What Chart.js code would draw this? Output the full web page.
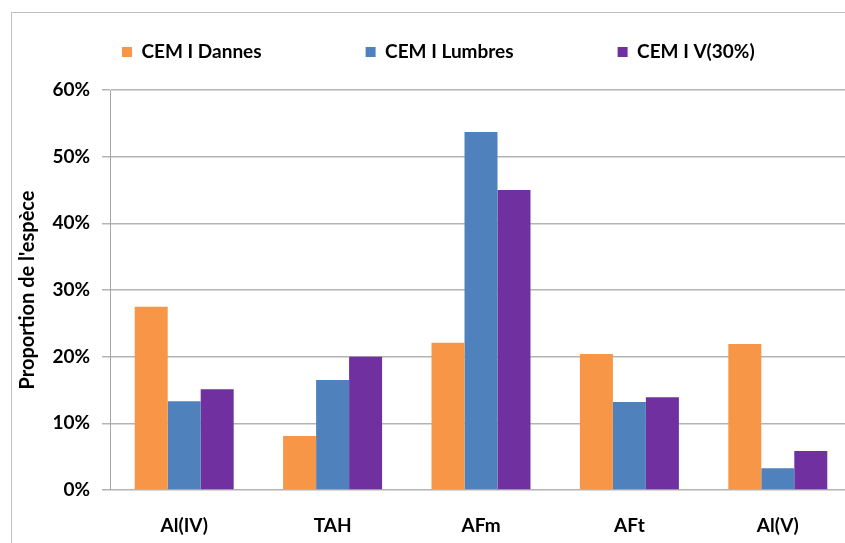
<!DOCTYPE html>
<html>
<head>
<meta charset="utf-8">
<script src="https://cdn.jsdelivr.net/npm/chart.js@4.4.0/dist/chart.umd.min.js"></script>
<style>
  html, body { margin: 0; padding: 0; background: #fff; overflow: hidden; }
  #frame { position: absolute; left: 11px; top: 12px; width: 900px; height: 600px; border: 1px solid #bfbfbf; }
  #wrap { position: absolute; left: 0; top: 0; width: 880px; height: 560px; }
</style>
</head>
<body>
<div id="frame"></div>
<div id="wrap"><canvas id="chart"></canvas></div>
<script>
// Values (percent)
const categories = ['Al(IV)', 'TAH', 'AFm', 'AFt', 'Al(V)'];
const dannes = [27.5, 8.1, 22.1, 20.4, 21.9];
const lumbres = [13.3, 16.5, 53.7, 13.2, 3.25];
const cemV30 = [15.1, 20.0, 45.0, 13.9, 5.85];
const seriesNames = ['CEM I Dannes', 'CEM I Lumbres', 'CEM I V(30%)'];
const yMax = 60;
const yStep = 10;

const FONT = "Lato, 'Open Sans', sans-serif";
const GRID = '#b4b4b4';
const LEGEND_PAD = 104;

// Legend placement: keep the wide item spacing on one row without a tall legend box
const legendPlacement = {
  id: 'legendPlacement',
  beforeLayout(chart) {
    const lg = chart.legend;
    if (lg && !lg._patched) {
      const fit = lg.fit;
      lg.fit = function () {
        const mw = this.maxWidth;
        this.maxWidth = mw + 300;
        fit.call(this);
        this.maxWidth = mw;
        this.width = Math.min(this.width, mw);
        this.height = 90;
      };
      lg._patched = true;
    }
  },
  afterLayout(chart) {
    const lg = chart.legend;
    if (!lg) return;
    lg.top = 42.5 - LEGEND_PAD;
    lg.left = 122 - LEGEND_PAD;
    lg.right = chart.width + 300;
  },
};

new Chart(document.getElementById('chart'), {
  type: 'bar',
  data: {
    labels: categories,
    datasets: [
      { label: seriesNames[0], data: dannes, backgroundColor: '#F79646' },
      { label: seriesNames[1], data: lumbres, backgroundColor: '#4F81BD' },
      { label: seriesNames[2], data: cemV30, backgroundColor: '#7030A0' },
    ],
  },
  options: {
    responsive: true,
    maintainAspectRatio: false,
    animation: false,
    layout: { padding: { left: 0, right: 28, top: 0, bottom: 0 } },
    datasets: {
      bar: { categoryPercentage: 0.667, barPercentage: 1, borderWidth: 0 },
    },
    plugins: {
      tooltip: { enabled: false },
      legend: {
        position: 'top',
        align: 'start',
        labels: {
          boxWidth: 10,
          boxHeight: 10,
          padding: LEGEND_PAD,
          color: '#000',
          font: { family: FONT, size: 19, weight: 'bold' },
        },
      },
    },
    scales: {
      x: {
        grid: { display: false, drawTicks: false },
        border: { display: false },
        ticks: {
          padding: 24,
          color: '#000',
          font: { family: FONT, size: 19, weight: 'bold' },
        },
        afterFit(scale) { scale.height = 70; },
      },
      y: {
        min: 0,
        max: yMax,
        ticks: {
          stepSize: yStep,
          padding: 12,
          color: '#000',
          font: { family: FONT, size: 19, weight: 'bold' },
          callback: (v) => v + '%',
        },
        grid: { color: GRID, lineWidth: 1.5, tickLength: 8, tickColor: GRID },
        border: { display: true, color: '#a6a6a6', width: 1 },
        title: {
          display: true,
          text: "Proportion de l'espèce",
          color: '#000',
          padding: { top: 16, bottom: 0 },
          font: { family: FONT, size: 20, weight: 'bold' },
        },
        afterFit(scale) { scale.width = 110; },
      },
    },
  },
  plugins: [legendPlacement],
});
</script>
</body>
</html>
